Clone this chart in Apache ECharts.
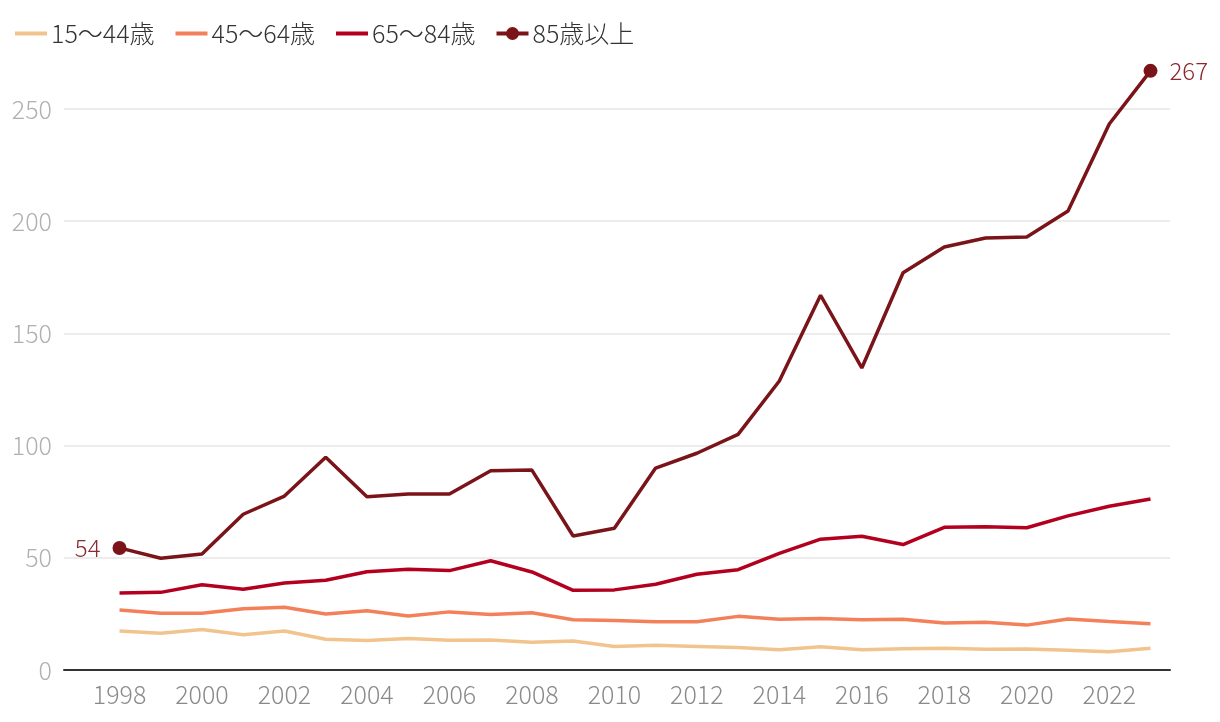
<!DOCTYPE html>
<html>
<head>
<meta charset="utf-8">
<script src="https://cdn.jsdelivr.net/npm/echarts@6/dist/echarts.min.js"></script>
<style>
html,body{margin:0;padding:0;background:#fff;}
#chart{width:1220px;height:722px;}
</style>
</head>
<body>
<div id="chart"></div>
<script>
var years = [1998,1999,2000,2001,2002,2003,2004,2005,2006,2007,2008,2009,2010,2011,2012,2013,2014,2015,2016,2017,2018,2019,2020,2021,2022,2023];
var xTickLabels = [1998,2000,2002,2004,2006,2008,2010,2012,2014,2016,2018,2020,2022];
var seriesNames = ['15〜44歳','45〜64歳','65〜84歳','85歳以上'];
var age15to44 = [17.4,16.4,18.0,15.7,17.4,13.7,13.1,14.0,13.3,13.4,12.4,12.9,10.5,11.0,10.5,10.0,9.0,10.4,9.0,9.5,9.7,9.2,9.4,8.8,8.1,9.7];
var age45to64 = [26.7,25.3,25.3,27.3,28.0,25.0,26.4,24.1,25.9,24.7,25.5,22.4,22.1,21.5,21.5,23.9,22.6,22.9,22.4,22.6,20.9,21.3,20.0,22.7,21.6,20.6];
var age65to84 = [34.3,34.6,38.0,36.0,38.8,40.0,43.8,44.9,44.3,48.7,43.7,35.5,35.7,38.2,42.7,44.7,52.0,58.3,59.6,55.9,63.6,63.8,63.4,68.7,73.0,76.2];
var age85plus = [54.4,49.8,51.7,69.4,77.5,94.8,77.2,78.4,78.4,88.8,89.1,59.7,63.2,90.0,96.6,105.0,128.8,167.0,134.6,177.0,188.5,192.5,193.0,204.5,243.3,267.0];
var yTicks = [0,50,100,150,200,250];

var colors = ['#f2c48d','#f4805a','#b3001f','#7a1419'];
var FONT = '"Noto Sans CJK JP", "Noto Sans", sans-serif';
var LINE_ICON = 'path://M0,5 L32,5 L32,9 L0,9 Z';
var DOT_ICON = 'path://M0,5 L10,5 L10,9 L0,9 Z M22,5 L32,5 L32,9 L22,9 Z M22.5,7 A6.5,6.5 0 1 1 9.5,7 A6.5,6.5 0 1 1 22.5,7 Z';

function pairs(arr){ return years.map(function(y,i){ return [y, arr[i]]; }); }

var lastIdx = years.length - 1;
var d85 = years.map(function(y,i){
  var item = { value: [y, age85plus[i]] };
  if (i === 0) {
    item.label = { show: true, position: 'left', distance: 12, formatter: function(){ return '54'; } };
  } else if (i === lastIdx) {
    item.label = { show: true, position: 'right', distance: 12, formatter: function(){ return '267'; } };
  }
  return item;
});

function simpleSeries(name, arr, color){
  return {
    name: name, type: 'line', data: pairs(arr), symbol: 'none', clip: false,
    lineStyle: { color: color, width: 3.5 }, itemStyle: { color: color },
    emphasis: { disabled: true }, z: 2
  };
}

var chart = echarts.init(document.getElementById('chart'));
chart.setOption({
  animation: false,
  backgroundColor: '#ffffff',
  textStyle: { fontFamily: FONT },
  legend: {
    left: 10, top: 16, itemWidth: 32, itemHeight: 14, itemGap: 21,
    textStyle: { fontSize: 25, color: '#333', fontFamily: FONT, fontWeight: 300, padding: [0,0,0,-1] },
    data: [
      { name: seriesNames[0], icon: LINE_ICON },
      { name: seriesNames[1], icon: LINE_ICON },
      { name: seriesNames[2], icon: LINE_ICON },
      { name: seriesNames[3], icon: DOT_ICON }
    ]
  },
  grid: { left: 64, right: 50, top: 109, bottom: 52, containLabel: false },
  xAxis: {
    type: 'value', min: 1996.654, max: 2023.473,
    axisLine: { show: true, onZero: true, lineStyle: { color: '#333', width: 2 } },
    axisTick: { show: false },
    splitLine: { show: false },
    axisLabel: {
      customValues: xTickLabels, margin: 12, fontSize: 25, fontWeight: 300, color: '#8a8a8a', fontFamily: FONT,
      formatter: function(v){ return String(v); }
    }
  },
  yAxis: {
    type: 'value', min: 0, max: 250, interval: 50,
    axisLine: { show: false }, axisTick: { show: false },
    splitLine: { lineStyle: { color: '#e6e6e6', width: 1.5 } },
    axisLabel: { margin: 12, fontSize: 25, fontWeight: 300, color: '#b0b0b0', fontFamily: FONT, customValues: yTicks }
  },
  series: [
    simpleSeries(seriesNames[0], age15to44, colors[0]),
    simpleSeries(seriesNames[1], age45to64, colors[1]),
    simpleSeries(seriesNames[2], age65to84, colors[2]),
    {
      name: seriesNames[3], type: 'line', data: d85, clip: false,
      symbol: 'circle', showSymbol: true, showAllSymbol: true,
      symbolSize: function(val, params){ return (params.dataIndex === 0 || params.dataIndex === lastIdx) ? 14 : 0; },
      lineStyle: { color: colors[3], width: 3.5 }, itemStyle: { color: colors[3] },
      label: { fontSize: 24, fontWeight: 300, color: '#8b2a2e', fontFamily: FONT },
      emphasis: { disabled: true }, z: 3
    }
  ]
});
</script>
</body>
</html>
